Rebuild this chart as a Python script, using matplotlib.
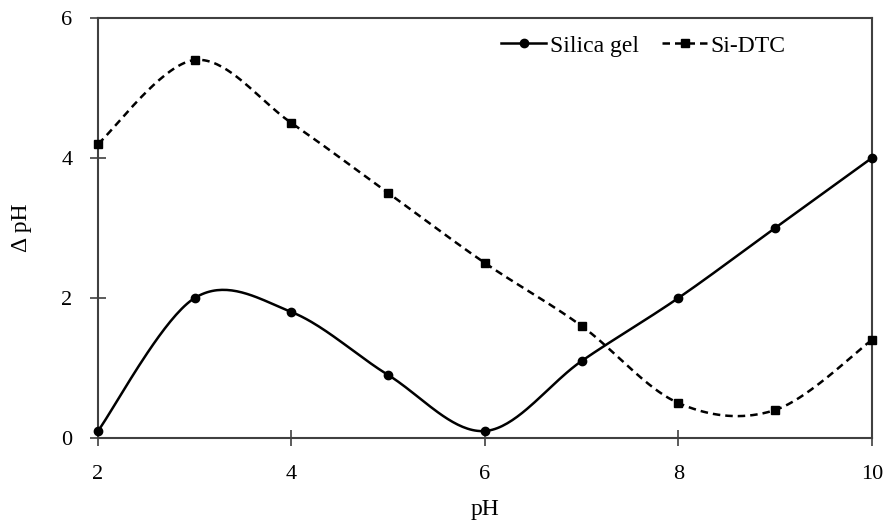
import numpy as np
import matplotlib.pyplot as plt

plt.rcParams['font.family'] = ['Liberation Serif', 'DejaVu Serif']

ph = [2, 3, 4, 5, 6, 7, 8, 9, 10]
silica_gel = [0.1, 2.0, 1.8, 0.9, 0.1, 1.1, 2.0, 3.0, 4.0]
si_dtc = [4.2, 5.4, 4.5, 3.5, 2.5, 1.6, 0.5, 0.4, 1.4]


def smooth(x, y, n=40):
    # excel-style smoothed line: cubic bezier through the points
    x = np.asarray(x, float)
    y = np.asarray(y, float)
    xs, ys = [x[0]], [y[0]]
    t = np.linspace(0, 1, n)[1:]
    for i in range(len(x) - 1):
        p0 = np.array([x[max(i - 1, 0)], y[max(i - 1, 0)]])
        p1 = np.array([x[i], y[i]])
        p2 = np.array([x[i + 1], y[i + 1]])
        p3 = np.array([x[min(i + 2, len(x) - 1)], y[min(i + 2, len(x) - 1)]])
        c1 = p1 + (p2 - p0) / 6
        c2 = p2 - (p3 - p1) / 6
        pts = ((1 - t) ** 3)[:, None] * p1 + (3 * (1 - t) ** 2 * t)[:, None] * c1 \
            + (3 * (1 - t) * t ** 2)[:, None] * c2 + (t ** 3)[:, None] * p2
        xs.extend(pts[:, 0])
        ys.extend(pts[:, 1])
    return xs, ys


fig = plt.figure(figsize=(8.86, 5.23), dpi=100)
ax = fig.add_axes([0.1106, 0.1625, 0.8734, 0.8031])

sx, sy = smooth(ph, silica_gel)
ax.plot(sx, sy, color='black', lw=1.8, clip_on=False)
ax.plot(ph, silica_gel, 'o', color='black', ms=6, clip_on=False, zorder=3)
dx, dy = smooth(ph, si_dtc)
ax.plot(dx, dy, color='black', lw=1.8, ls=(0, (3, 2)), clip_on=False)
ax.plot(ph, si_dtc, 's', color='black', ms=6, clip_on=False, zorder=3)

# legend handles
ax.plot([], [], '-o', color='black', lw=1.8, ms=6, label='Silica gel')
ax.plot([], [], color='black', lw=1.8, ls=(0, (3, 2)), marker='s', ms=6, label='Si-DTC')
h, l = ax.get_legend_handles_labels()
ax.legend(h[-2:], l[-2:], loc='upper right', bbox_to_anchor=(0.916, 1.01), ncol=2,
          frameon=False, fontsize=17, handlelength=1.9, handletextpad=0.15,
          columnspacing=1.0)

ax.set_xlim(2, 10)
ax.set_ylim(0, 6)
ax.set_xticks([2, 4, 6, 8, 10])
ax.set_yticks([0, 2, 4, 6])
ax.tick_params(direction='inout', length=12, width=1.2, color='#404040',
               labelsize=16)
ax.tick_params(axis='x', pad=13.5)
ax.tick_params(axis='y', pad=12.5)
for s in ax.spines.values():
    s.set_color('#404040')
    s.set_linewidth(1.5)
ax.set_xlabel('pH', fontsize=17, labelpad=11)
ax.set_ylabel('Δ pH', fontsize=17, labelpad=21)

fig.savefig('out.png', dpi=100)
